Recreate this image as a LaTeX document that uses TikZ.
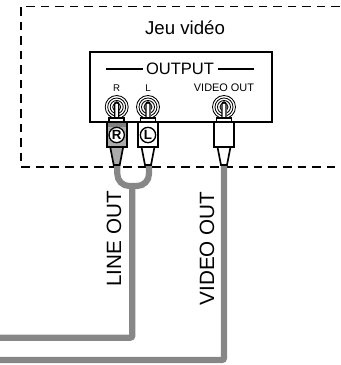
\documentclass[tikz,border=0pt]{standalone}
\usepackage{fontspec}
\setmainfont{Liberation Sans}
\tikzset{
  cable/.style={draw=black!47,line width=4.6pt,rounded corners=1.5pt},
  plugline/.style={draw=black,line width=1.25pt},
  ringline/.style={draw=black,line width=0.65pt},
  panelline/.style={line width=1.2pt},
  lab/.style={inner sep=0pt,font=\fontsize{#1}{#1}\selectfont},
  plugmark/.style={circle,draw,line width=1pt,fill=white,inner sep=0pt,minimum size=11.5pt,font=\bfseries\fontsize{10}{10}\selectfont},
}
\begin{document}
\begin{tikzpicture}[x=0.75pt,y=-0.75pt]
  \useasboundingbox (0,0) rectangle (340,365);
  % enclosure and panel
  \draw[panelline,dash pattern=on 6.4pt off 4.5pt] (340,6.5)--(21,6.5)--(21,166.7)--(340,166.7);
  \node[lab=14] (title) at (185,28) {Jeu vidéo};
  \draw[panelline] (90,52) rectangle (272,122);
  \node[lab=12.4] (output) at (180,69) {OUTPUT};
  \draw[panelline] (106,69)--(143,69);
  \draw[panelline] (218,69)--(254,69);
  \node[lab=7.3] (rlab) at (116.7,88) {R};
  \node[lab=7.3] (llab) at (148,88) {L};
  \node[lab=8.2] (vlab) at (224,88) {VIDEO OUT};
  % cables
  \coordinate (rend) at (117.3,160);
  \coordinate (lend) at (149,160);
  \coordinate (vend) at (224,160);
  \draw[cable,rounded corners=9pt] (rend)--(117.3,186)--(149,186)--(lend);
  \draw[cable] (132.3,186)--(132.3,337.7)--(0,337.7);
  \draw[cable] (vend)--(224,360)--(0,360);
  % jacks and plugs
  \foreach \nm/\px/\tint in {r/116.7/black!33,l/148/white,v/224/white}{
    \foreach \rad in {4,6.5,9,11.5}
      \draw[ringline] (\px,107) circle[radius=\rad*0.75pt];
    \fill[white] (\px-2.5,106) rectangle (\px+2.5,118);
    \draw[line width=1pt] (\px-2,118)--(\px-2,104) arc[start angle=180,end angle=0,radius=1.5pt]--(\px+2,118);
    \filldraw[plugline,fill=white] (\px-7.5,118) rectangle (\px+7.5,122);
    \filldraw[plugline,fill=\tint] (\px-10,122) rectangle (\px+10,147);
    \filldraw[plugline,fill=\tint] (\px-6.5,147)--(\px+6.5,147)--(\px+3,165)--(\px-3,165)--cycle;
  }
  \fill[black!50] (107,122.5) rectangle (126.4,127);
  \draw[plugline] (106.7,122) rectangle (126.7,147);
  \node[plugmark] (rmark) at (116.7,135) {R};
  \node[plugmark] (lmark) at (148,135) {L};
  % cable names
  \node[lab=15.5,rotate=90] (lineout) at (114,239) {LINE OUT};
  \node[lab=15.5,rotate=90] (videoout) at (207,248.5) {VIDEO OUT};
\end{tikzpicture}
\end{document}
